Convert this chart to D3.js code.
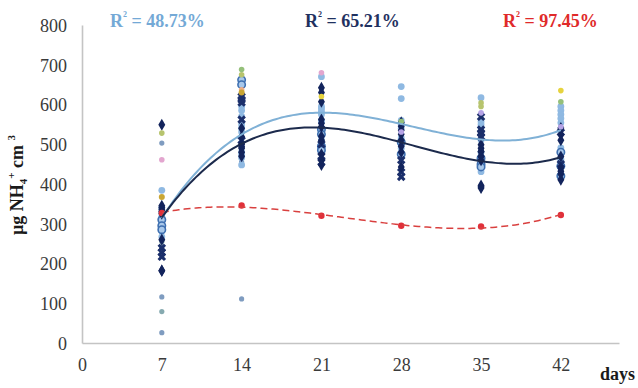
<!DOCTYPE html>
<html>
<head>
<meta charset="utf-8">
<script src="https://cdn.jsdelivr.net/npm/d3@7"></script>
<style>
  html, body { margin: 0; padding: 0; background: #fff; }
  svg { display: block; font-family: "Liberation Serif", "Times New Roman", serif; }
</style>
</head>
<body>
<svg id="chart" width="638" height="388"></svg>
<script>
// Sampling days and axis ticks
const days = [7, 14, 21, 28, 35, 42];
const xTicks = [0, 7, 14, 21, 28, 35, 42];
const yTicks = [0, 100, 200, 300, 400, 500, 600, 700, 800];

// Light-blue series (light polynomial trend); one list per day
const lightSeries = [
  [384, 340, 330, 318, 305, 292, 282, 267],
  [595, 585, 570, 549, 540, 531, 481, 475, 466, 448],
  [670, 595, 590, 583, 575, 560, 556, 511],
  [645, 615, 560, 550, 540, 516, 500, 490],
  [617, 557, 550, 542, 511, 480, 456, 455, 431],
  [595, 585, 575, 565, 554, 491, 463, 460]
];

// Navy diamond series (dark polynomial trend)
const navySeries = [
  [549, 345, 340, 335, 330, 325, 260, 182, 182],
  [540, 519, 500, 494, 490, 480, 470],
  [642, 630, 607, 562, 553, 544, 520, 510, 475, 460, 448],
  [555, 545, 535, 525, 510, 495, 480, 443],
  [499, 490, 482, 481, 470, 469, 460, 396, 393, 390],
  [541, 524, 510, 469, 440, 432, 425, 411]
];

// Red series (dashed polynomial trend)
const redSeries = [327, 346, 320, 295, 293, 322];

// Series drawn without trend lines
const crossSeries = [
  [239, 228, 217],
  [620, 612, 605, 562, 510],
  [500, 470, 455],
  [460, 430, 418],
  [569, 537, 528, 519],
  [530, 450]
];
const ringSeries = [
  [310, 295, 285],
  [662, 650],
  [537, 525, 495, 485],
  [505, 475],
  [465, 450, 443],
  [480, 445, 420]
];
const grayDots     = [[503, 116, 26], [456, 111], [], [], [], []];
const tealDots     = [[267, 255, 242, 79], [], [], [], [], []];
const yellowDots   = [[], [], [620], [], [], [635]];
const oliveDots    = [[528], [675], [], [], [604, 595], []];
const greenDots    = [[], [688], [], [557], [], [607]];
const pinkDots     = [[461], [], [680], [], [], []];
const orangeDots   = [[], [637], [], [], [], []];
const goldDots     = [[367], [630], [], [], [], []];
const lavenderDots = [[], [], [], [531], [579], [544]];

// R² annotations
const r2Labels = ["48.73%", "65.21%", "97.45%"];

const svg = d3.select("#chart");
const x = d3.scaleLinear().domain([0, 47.1]).range([82, 619]);
const y = d3.scaleLinear().domain([0, 800]).range([343, 25]);

// Axes (light grey lines, no tick marks)
const xAxis = d3.axisBottom(x).tickValues(xTicks).tickSize(0).tickPadding(15);
const yAxis = d3.axisLeft(y).tickValues(yTicks).tickSize(0).tickPadding(15);

const gx = svg.append("g").attr("transform", `translate(0,${y(0)})`).call(xAxis);
const gy = svg.append("g").attr("transform", `translate(${x(0)},0)`).call(yAxis);
[gx, gy].forEach(g => {
  g.select(".domain").attr("stroke", "#c4c4c4").attr("stroke-width", 1.6);
  g.selectAll("text").attr("font-family", "Liberation Serif, serif")
    .attr("font-size", 18).attr("fill", "#3a3a3a");
});
gy.selectAll("text").attr("dy", "0.35em");

// Flatten per-day lists into points
function flat(series) {
  const out = [];
  series.forEach((vals, i) => vals.forEach(v => out.push({ d: days[i], v })));
  return out;
}

function dots(series, color, r) {
  svg.append("g").selectAll("circle").data(flat(series)).join("circle")
    .attr("cx", p => x(p.d)).attr("cy", p => y(p.v)).attr("r", r)
    .attr("fill", color);
}

// Small scattered dots
dots(grayDots, "#7f9cc0", 2.6);
dots(tealDots, "#86aab0", 2.6);

// Light-blue circles
dots(lightSeries, "#8fb9e2", 3.4);

// Blue rings
svg.append("g").selectAll("circle").data(flat(ringSeries)).join("circle")
  .attr("cx", p => x(p.d)).attr("cy", p => y(p.v)).attr("r", 3.7)
  .attr("fill", "#a9c8ea").attr("stroke", "#3e6fb0").attr("stroke-width", 1.6);

// Navy crosses
svg.append("g").selectAll("path").data(flat(crossSeries)).join("path")
  .attr("d", d3.symbol().type(d3.symbolCross).size(46))
  .attr("transform", p => `translate(${x(p.d)},${y(p.v)}) rotate(45)`)
  .attr("fill", "#1b2f6b");

// Navy diamonds
svg.append("g").selectAll("path").data(flat(navySeries)).join("path")
  .attr("d", d3.symbol().type(d3.symbolDiamond).size(42))
  .attr("transform", p => `translate(${x(p.d)},${y(p.v)})`)
  .attr("fill", "#13245c");

// Coloured single dots
dots(yellowDots, "#e6d33e", 2.8);
dots(oliveDots, "#b7c46e", 2.8);
dots(greenDots, "#95c07a", 2.8);
dots(pinkDots, "#e3a6cf", 2.8);
dots(orangeDots, "#efae86", 2.8);
dots(goldDots, "#c9a634", 3.0);
dots(lavenderDots, "#b5a3e6", 2.8);

// Red series points
svg.append("g").selectAll("circle").data(redSeries.map((v, i) => ({ d: days[i], v }))).join("circle")
  .attr("cx", p => x(p.d)).attr("cy", p => y(p.v)).attr("r", 3.2)
  .attr("fill", "#e0303a");

// Least-squares polynomial fit (normal equations, centred x)
function polyfit(points, deg) {
  const c = 24.5, s = 17.5;
  const n = deg + 1;
  const A = Array.from({ length: n }, () => new Array(n + 1).fill(0));
  points.forEach(p => {
    const t = (p.d - c) / s;
    const pw = [];
    for (let k = 0; k < 2 * n; k++) pw.push(Math.pow(t, k));
    for (let i = 0; i < n; i++) {
      for (let j = 0; j < n; j++) A[i][j] += pw[i + j];
      A[i][n] += pw[i] * p.v;
    }
  });
  for (let i = 0; i < n; i++) {
    let m = i;
    for (let r = i + 1; r < n; r++) if (Math.abs(A[r][i]) > Math.abs(A[m][i])) m = r;
    [A[i], A[m]] = [A[m], A[i]];
    for (let r = 0; r < n; r++) {
      if (r === i) continue;
      const f = A[r][i] / A[i][i];
      for (let k = i; k <= n; k++) A[r][k] -= f * A[i][k];
    }
  }
  const coef = A.map((row, i) => row[n] / row[i]);
  return d => {
    const t = (d - c) / s;
    return coef.reduce((acc, a, k) => acc + a * Math.pow(t, k), 0);
  };
}

function trend(points, color, width, dash) {
  const f = polyfit(points, 3);
  const samples = d3.range(7, 42.001, 0.25).map(d => [d, f(d)]);
  svg.append("path").datum(samples)
    .attr("d", d3.line().x(p => x(p[0])).y(p => y(p[1])))
    .attr("fill", "none").attr("stroke", color).attr("stroke-width", width)
    .attr("stroke-dasharray", dash || null);
}

trend(redSeries.map((v, i) => ({ d: days[i], v })), "#d9403f", 1.5, "7,4");
trend(flat(lightSeries), "#80b1d6", 2);
trend(flat(navySeries), "#1c2a4c", 2);

// R² labels
const labelDefs = [
  { x: 110, text: r2Labels[0], color: "#74a9d6" },
  { x: 305, text: r2Labels[1], color: "#1f3160" },
  { x: 503, text: r2Labels[2], color: "#e02a2a" }
];
labelDefs.forEach(l => {
  const t = svg.append("text").attr("x", l.x).attr("y", 27)
    .attr("font-size", 18).attr("font-weight", "bold").attr("fill", l.color);
  t.append("tspan").text("R");
  t.append("tspan").attr("font-size", 8).attr("dy", -10).text("2");
  t.append("tspan").attr("dy", 10).text(" = " + l.text);
});

// Axis titles
const yt = svg.append("text")
  .attr("transform", "translate(23,185) rotate(-90)")
  .attr("text-anchor", "middle").attr("font-size", 18).attr("font-weight", "bold")
  .attr("fill", "#1a1a1a");
yt.append("tspan").text("µg NH");
yt.append("tspan").attr("font-size", 11).attr("dy", 4).text("4");
yt.append("tspan").attr("font-size", 11).attr("dy", -12).text("+");
yt.append("tspan").attr("dy", 8).text(" cm ");
yt.append("tspan").attr("font-size", 11).attr("dy", -8).text("3");

svg.append("text").attr("x", 600).attr("y", 380)
  .attr("font-size", 18).attr("font-weight", "bold").attr("fill", "#1a1a1a")
  .text("days");
</script>
</body>
</html>
